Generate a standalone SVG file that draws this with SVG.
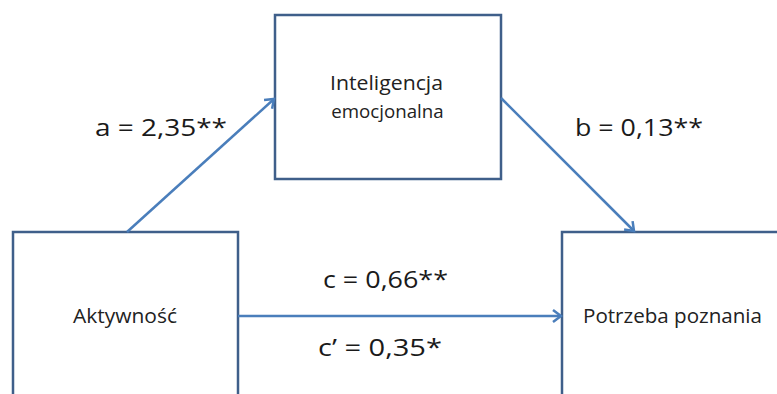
<svg xmlns="http://www.w3.org/2000/svg" width="777" height="394" viewBox="0 0 777 394">
<style>
.box{fill:#fff;stroke:#3f5f8a;stroke-width:2.5}
.lbl{font-family:"Open Sans","Noto Sans","Liberation Sans",sans-serif;font-size:24px;fill:#1a1a1a}
.nt{font-family:"Open Sans","Noto Sans","Liberation Sans",sans-serif;font-size:20px;fill:#222}
.conn{stroke:#4a7ebb;stroke-width:2.5;fill:none}
</style>
<defs>
<marker id="arr" markerUnits="userSpaceOnUse" markerWidth="20" markerHeight="20" viewBox="-10 -10 20 20" refX="0" refY="0" orient="auto">
<path d="M-8,-6 L0,0 L-8,6" fill="none" stroke="#4a7ebb" stroke-width="2.5" stroke-linejoin="miter"/>
</marker>
</defs>
<rect width="777" height="394" fill="#fff"/>
<g id="node-aktywnosc">
<rect class="box" x="13" y="232" width="225" height="175"/>
<text class="nt" x="73" y="323" textLength="104" lengthAdjust="spacingAndGlyphs">Aktywność</text>
</g>
<g id="node-inteligencja">
<rect class="box" x="275" y="15" width="226" height="164"/>
<text class="nt" x="330" y="90" textLength="113" lengthAdjust="spacingAndGlyphs">Inteligencja</text>
<text class="nt" x="387.5" y="118" style="font-size:18.7px;text-anchor:middle">emocjonalna</text>
</g>
<g id="node-potrzeba">
<rect class="box" x="562" y="232" width="230" height="175"/>
<text class="nt" x="583" y="323" textLength="179" lengthAdjust="spacingAndGlyphs">Potrzeba poznania</text>
</g>
<g id="connectors">
<line class="conn" x1="127" y1="232" x2="274" y2="99" marker-end="url(#arr)"/>
<line class="conn" x1="501" y1="98" x2="634" y2="231" marker-end="url(#arr)"/>
<line class="conn" x1="238" y1="316" x2="561" y2="316" marker-end="url(#arr)"/>
</g>
<g id="labels">
<text class="lbl" x="95" y="136" textLength="132" lengthAdjust="spacingAndGlyphs">a = 2,35**</text>
<text class="lbl" x="575" y="136" textLength="128" lengthAdjust="spacingAndGlyphs">b = 0,13**</text>
<text class="lbl" x="323" y="288" textLength="125" lengthAdjust="spacingAndGlyphs">c = 0,66**</text>
<text class="lbl" x="318" y="356" textLength="124" lengthAdjust="spacingAndGlyphs">c’ = 0,35*</text>
</g>
</svg>
